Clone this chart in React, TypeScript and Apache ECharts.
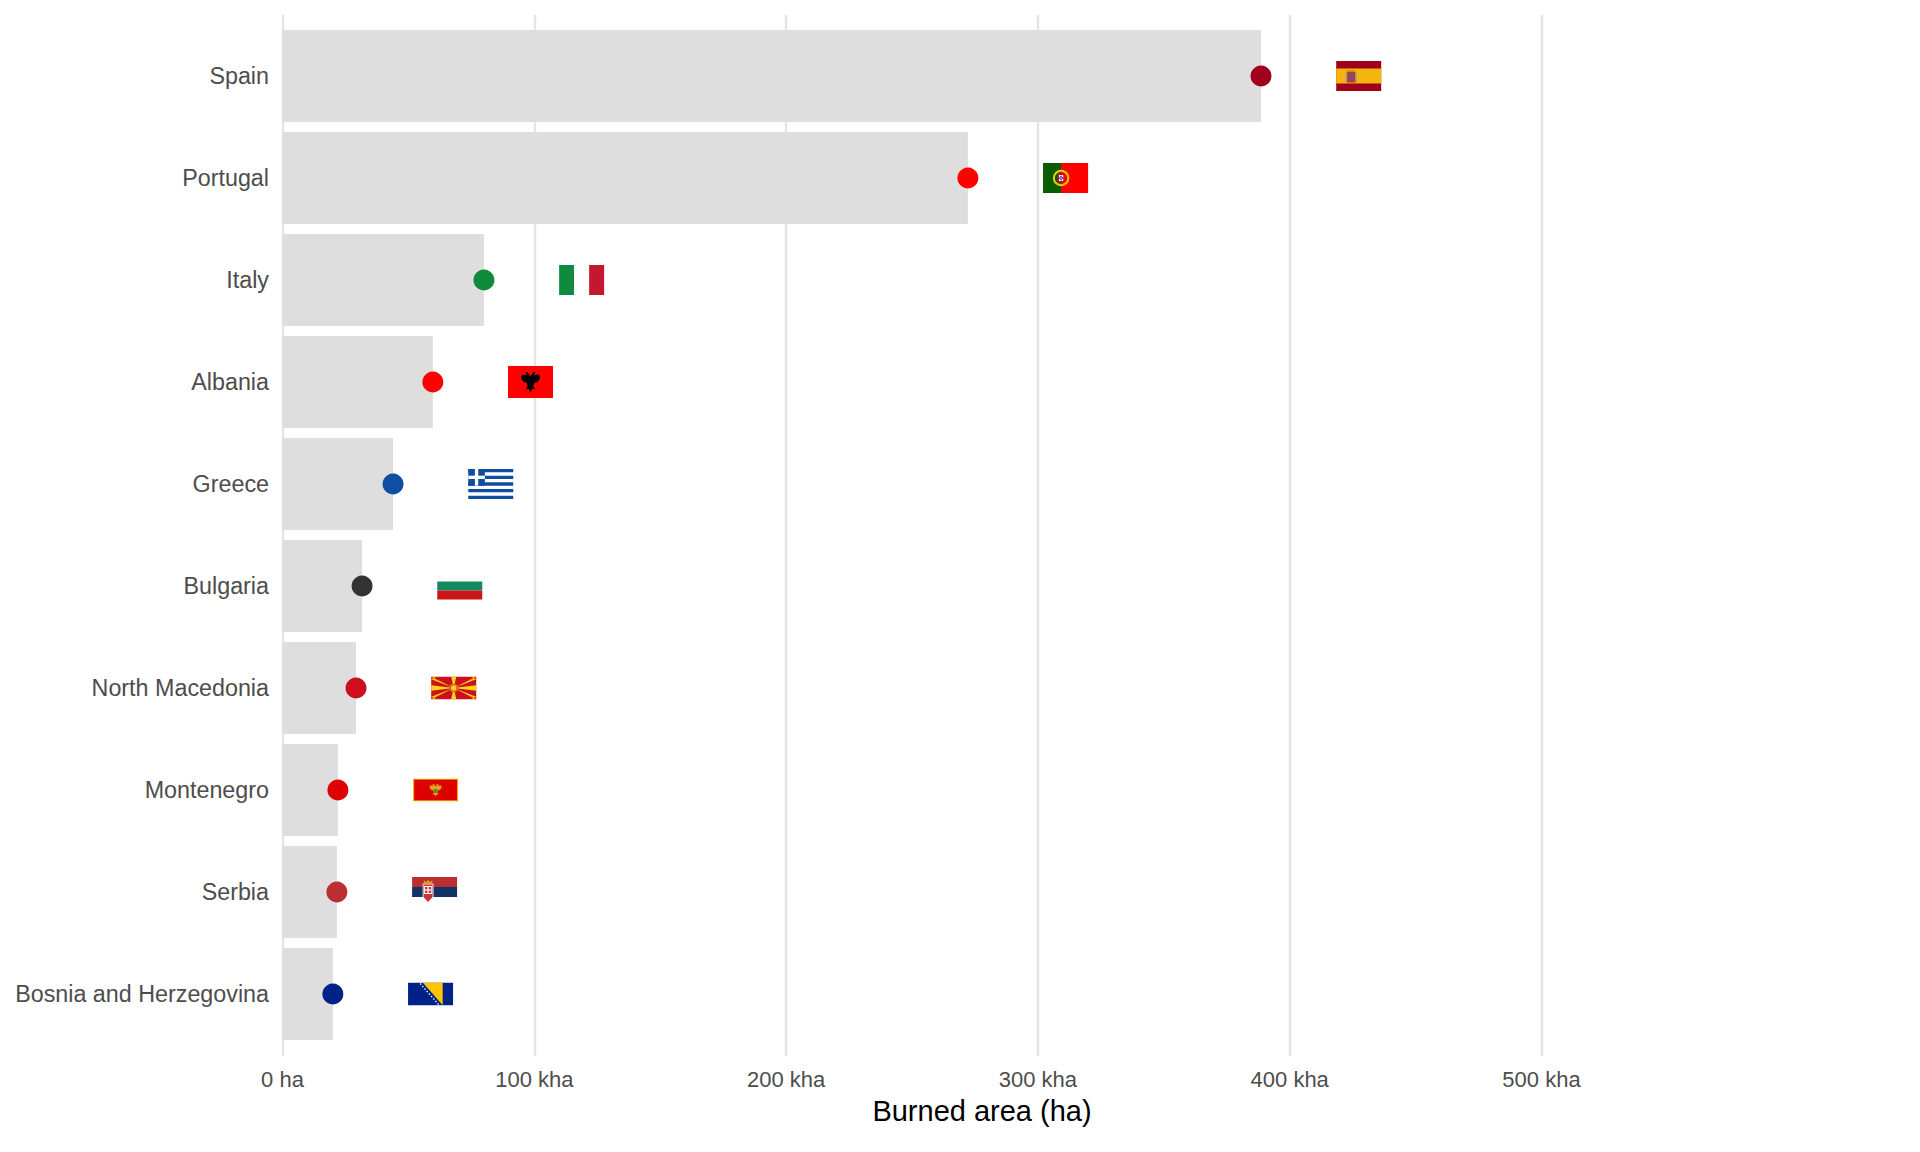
import React, { useEffect, useRef } from "react";
import * as echarts from "echarts";

const countries = [
  "Spain",
  "Portugal",
  "Italy",
  "Albania",
  "Greece",
  "Bulgaria",
  "North Macedonia",
  "Montenegro",
  "Serbia",
  "Bosnia and Herzegovina",
];
const burnedArea = [388600, 272200, 80000, 59700, 43900, 31600, 29200, 22000, 21600, 20000];
const dotColors = [
  "#A0001C",
  "#FF0000",
  "#108A3C",
  "#FF0000",
  "#104EA3",
  "#333333",
  "#CE0E1F",
  "#DD0000",
  "#BA2E34",
  "#002188",
];
const flagAspect = [1.5, 1.5, 1.5, 1.4, 1.5, 5 / 3, 2, 2, 1.5, 2];
const xTickValues = [0, 100000, 200000, 300000, 400000, 500000];

const FLAG_OFFSET = 38800;
const FLAG_W = 45;
const PANEL_LEFT = 282.5;
const PANEL_W = 1399;
const PANEL_XMAX = 555600;
const GRID_XMAX = 500000;
const FONT = "'Liberation Sans', Arial, Helvetica, sans-serif";

function rect(x: number, y: number, w: number, h: number, fill: string, extra: any = {}) {
  return { type: "rect", shape: { x, y, width: w, height: h }, style: { fill, ...extra } };
}
function poly(points: number[][], fill: string, extra: any = {}) {
  return { type: "polygon", shape: { points }, style: { fill, ...extra } };
}
function circ(cx: number, cy: number, r: number, fill: string, extra: any = {}) {
  return { type: "circle", shape: { cx, cy, r }, style: { fill, ...extra } };
}

const eagle = (cx: number, cy: number, s: number) =>
  [
    [0, -6], [-2, -9], [-4, -11], [-5, -9], [-3, -7], [-9, -8], [-10, -5], [-9, -2], [-7, 0],
    [-4, 1], [-3, 4], [-5, 8], [-2, 7], [0, 11], [2, 7], [5, 8], [3, 4], [4, 1], [7, 0],
    [9, -2], [10, -5], [9, -8], [3, -7], [5, -9], [4, -11], [2, -9],
  ].map(([x, y]) => [cx + x * s, cy + y * s]);

function flagShapes(name: string, w: number, h: number): any[] {
  switch (name) {
    case "Spain":
      return [
        rect(0, 0, w, h, "#A0001C"),
        rect(0, h / 4, w, h / 2, "#F6B40E"),
        rect(10.5, 10.5, 9, 11, "#B0402A"),
        rect(9.5, 11, 1.5, 10, "#9A9A9A"),
        rect(19, 11, 1.5, 10, "#9A9A9A"),
        rect(12, 9, 6, 2, "#C8941A"),
        rect(13, 14, 4, 5, "#7A4A80"),
      ];
    case "Portugal":
      return [
        rect(0, 0, w, h, "#FF0000"),
        rect(0, 0, w * 0.4, h, "#0A5C00"),
        circ(18, 15, 7.2, "none", { stroke: "#E8D000", lineWidth: 2 }),
        rect(14.5, 10.5, 7, 9, "#E3001A"),
        rect(15.9, 11.9, 4.2, 6.2, "#FFFFFF"),
        circ(18, 13.5, 0.9, "#2A4FA8"),
        circ(18, 16.5, 0.9, "#2A4FA8"),
        circ(16.8, 15, 0.9, "#2A4FA8"),
        circ(19.2, 15, 0.9, "#2A4FA8"),
      ];
    case "Italy":
      return [
        rect(0, 0, w / 3, h, "#108A3C"),
        rect(w / 3, 0, w / 3, h, "#FFFFFF"),
        rect((2 * w) / 3, 0, w / 3, h, "#C3182F"),
      ];
    case "Albania":
      return [rect(0, 0, w, h, "#FF0000"), poly(eagle(w / 2, h / 2, 0.95), "#000000")];
    case "Greece": {
      const s = h / 9;
      const out: any[] = [rect(0, 0, w, h, "#FFFFFF")];
      for (let i = 0; i < 9; i += 2) out.push(rect(0, i * s, w, s, "#104EA3"));
      out.push(rect(0, 0, 5 * s, 5 * s, "#104EA3"));
      out.push(rect(0, 2 * s, 5 * s, s, "#FFFFFF"));
      out.push(rect(2 * s, 0, s, 5 * s, "#FFFFFF"));
      return out;
    }
    case "Bulgaria":
      return [
        rect(0, 0, w, h / 3, "#FFFFFF"),
        rect(0, h / 3, w, h / 3, "#13895D"),
        rect(0, (2 * h) / 3, w, h / 3, "#CB1517"),
      ];
    case "North Macedonia": {
      const cx = w / 2;
      const cy = h / 2;
      const y = "#F7D417";
      return [
        rect(0, 0, w, h, "#CE0E1F"),
        poly([[cx, cy], [0, cy - 2.8], [0, cy + 2.8]], y),
        poly([[cx, cy], [w, cy - 2.8], [w, cy + 2.8]], y),
        poly([[cx, cy], [cx - 2.6, 0], [cx + 2.6, 0]], y),
        poly([[cx, cy], [cx - 2.6, h], [cx + 2.6, h]], y),
        poly([[cx, cy], [0, 0], [5.5, 0], [0, 2.4]], y),
        poly([[cx, cy], [w, 0], [w - 5.5, 0], [w, 2.4]], y),
        poly([[cx, cy], [0, h], [5.5, h], [0, h - 2.4]], y),
        poly([[cx, cy], [w, h], [w - 5.5, h], [w, h - 2.4]], y),
        circ(cx, cy, 4.2, y),
        circ(cx, cy, 3.4, "none", { stroke: "#CE0E1F", lineWidth: 0.9 }),
      ];
    }
    case "Montenegro":
      return [
        rect(0, 0, w, h, "#F2A900"),
        rect(1.1, 1.1, w - 2.2, h - 2.2, "#DD0000"),
        poly(eagle(w / 2, h / 2, 0.6), "#E8A317"),
        rect(w / 2 - 2, h / 2 - 1, 4, 4, "#5A8A3C"),
      ];
    case "Serbia":
      return [
        rect(0, 0, w, h / 3, "#BA2E34"),
        rect(0, h / 3, w, h / 3, "#113366"),
        rect(0, (2 * h) / 3, w, h / 3, "#FFFFFF"),
        poly([[11, 7], [21, 7], [21, 20], [16, 25.5], [11, 20]], "#C6363C", {
          stroke: "#FFFFFF",
          lineWidth: 0.8,
        }),
        rect(11.8, 9, 8.4, 8, "#FFFFFF"),
        rect(12.8, 10, 6.4, 6, "#C6363C"),
        rect(15.4, 10, 1.2, 6, "#FFFFFF"),
        rect(12.8, 12.4, 6.4, 1.2, "#FFFFFF"),
        poly([[11.5, 7], [12, 3.5], [14, 5], [16, 3], [18, 5], [20, 3.5], [20.5, 7]], "#D8A02A"),
      ];
    case "Bosnia and Herzegovina": {
      const out: any[] = [
        rect(0, 0, w, h, "#002188"),
        poly([[w * 0.33, 0], [w * 0.77, 0], [w * 0.77, h]], "#FEC400"),
      ];
      for (let i = 0; i < 9; i++) {
        const t = (i + 0.5) / 9;
        out.push(circ(11.5 + t * (w * 0.77 - 3.5 - 11.5), t * h, 0.75, "#FFFFFF"));
      }
      return out;
    }
    default:
      return [rect(0, 0, w, h, "#CCCCCC")];
  }
}

export default function App() {
  const ref = useRef<HTMLDivElement>(null);

  useEffect(() => {
    document.body.style.margin = "0";
    if (!ref.current) return;
    const chart = echarts.init(ref.current, null, { renderer: "svg" });
    const grid0W = (PANEL_W * GRID_XMAX) / PANEL_XMAX;

    const option: any = {
      animation: false,
      backgroundColor: "#FFFFFF",
      textStyle: { fontFamily: FONT },
      grid: [
        { left: PANEL_LEFT, top: 14.7, width: grid0W, height: 1041 },
        { left: PANEL_LEFT, top: 25, width: PANEL_W, height: 1020 },
      ],
      xAxis: [
        {
          gridIndex: 0,
          type: "value",
          min: 0,
          max: GRID_XMAX,
          interval: 100000,
          axisLine: { show: false },
          axisTick: { show: false },
          splitLine: { show: true, lineStyle: { color: "#E5E5E5", width: 2.4 } },
          axisLabel: {
            show: true,
            margin: 13,
            fontSize: 22,
            color: "#4D4D4D",
            fontFamily: FONT,
            formatter: (v: number) =>
              xTickValues.includes(v) ? (v === 0 ? "0 ha" : `${v / 1000} kha`) : "",
          },
        },
        {
          gridIndex: 1,
          type: "value",
          min: 0,
          max: PANEL_XMAX,
          axisLine: { show: false },
          axisTick: { show: false },
          splitLine: { show: false },
          axisLabel: { show: false },
          name: "Burned area (ha)",
          nameLocation: "middle",
          nameGap: 51.5,
          nameTextStyle: { fontSize: 29, color: "#000000", fontFamily: FONT },
        },
      ],
      yAxis: [
        { gridIndex: 0, type: "value", show: false, min: 0, max: 1 },
        {
          gridIndex: 1,
          type: "category",
          inverse: true,
          data: countries,
          axisLine: { show: false },
          axisTick: { show: false },
          splitLine: { show: false },
          axisLabel: { margin: 13.5, fontSize: 23.3, color: "#4D4D4D", fontFamily: FONT },
        },
      ],
      series: [
        {
          type: "bar",
          xAxisIndex: 1,
          yAxisIndex: 1,
          data: burnedArea,
          barWidth: "90%",
          itemStyle: { color: "#DEDEDE" },
          silent: true,
        },
        {
          type: "scatter",
          xAxisIndex: 1,
          yAxisIndex: 1,
          symbol: "circle",
          symbolSize: 21,
          data: countries.map((c, i) => ({
            value: [burnedArea[i], c],
            itemStyle: { color: dotColors[i], opacity: 1 },
          })),
          z: 4,
        },
        {
          type: "custom",
          xAxisIndex: 1,
          yAxisIndex: 1,
          encode: { x: 0, y: 1 },
          data: countries.map((c, i) => [burnedArea[i] + FLAG_OFFSET, c]),
          z: 5,
          renderItem: (params: any, api: any) => {
            const idx = params.dataIndex;
            const pt = api.coord([api.value(0), api.value(1)]);
            const w = FLAG_W;
            const h = w / flagAspect[idx];
            return {
              type: "group",
              x: pt[0] - w / 2,
              y: pt[1] - h / 2,
              children: flagShapes(countries[idx], w, h),
            };
          },
        },
      ],
    };

    chart.setOption(option);
    return () => chart.dispose();
  }, []);

  return <div ref={ref} style={{ width: 1920, height: 1152 }} />;
}
